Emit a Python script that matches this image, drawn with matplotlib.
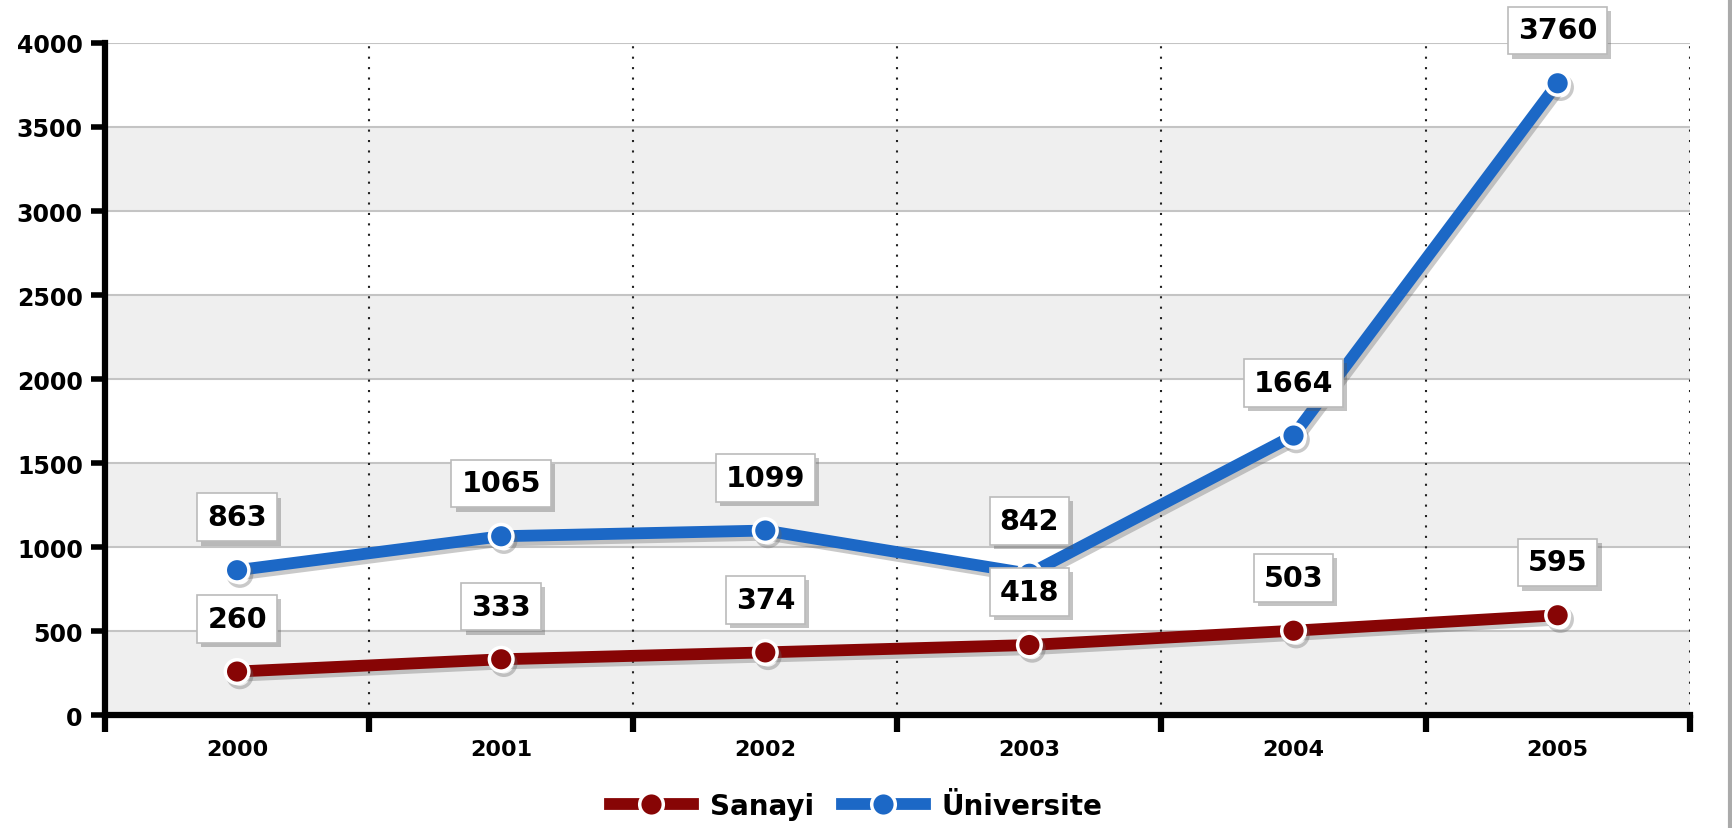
import numpy as np
import matplotlib as mpl
import matplotlib.pyplot as plt
import matplotlib.patheffects as pe
from matplotlib.lines import Line2D

mpl.use('Agg')

mpl.rcParams['font.family'] = ['DejaVu Sans']
mpl.rcParams['font.weight'] = 'bold'

years = ['2000', '2001', '2002', '2003', '2004', '2005']
sanayi = [260, 333, 374, 418, 503, 595]
universite = [863, 1065, 1099, 842, 1664, 3760]

RED = '#870505'
BLUE = '#1c68c6'


def add_series(ax, values, color, label):
    x = np.arange(len(values))
    ax.plot(x, values, color=color, lw=8.5, solid_capstyle='round', zorder=4,
            marker='o', ms=17, mfc=color, mec='white', mew=2.5, label=label,
            path_effects=[pe.SimpleLineShadow(offset=(2, -3), shadow_color='#666666', alpha=0.35),
                          pe.Normal()])
    for xi, v in zip(x, values):
        t = ax.annotate(str(v), xy=(xi, v), xytext=(0, 38), textcoords='offset points',
                        ha='center', va='center', fontsize=20.5, fontweight='bold', zorder=6,
                        bbox=dict(boxstyle='square,pad=0.35', fc='white', ec='#bbbbbb', lw=1.2))
        t.get_bbox_patch().set_path_effects(
            [pe.SimplePatchShadow(offset=(3, -3), shadow_rgbFace='#555555', alpha=0.35), pe.Normal()])


def main():
    fig = plt.figure(figsize=(17.33, 8.29), dpi=100)
    ax = fig.add_axes([0.0606, 0.136, 0.9144, 0.811])

    # alternating bands
    for i, lo in enumerate(range(0, 4000, 500)):
        if i % 2 == 0:
            ax.axhspan(lo, lo + 500, color='#efefef', zorder=0, lw=0)
    for yv in range(500, 4001, 500):
        ax.axhline(yv, color='#c4c4c4', lw=1.5, zorder=1)

    bounds = np.arange(-0.5, len(years), 1.0)
    for b in bounds[1:]:
        ax.axvline(b, color='#222222', lw=1.5, ls=(0, (1, 4)), zorder=1)

    add_series(ax, sanayi, RED, 'Sanayi')
    add_series(ax, universite, BLUE, 'Üniversite')

    ax.set_xlim(-0.5, len(years) - 0.5)
    ax.set_ylim(0, 4000)
    ax.set_yticks(range(0, 4001, 500))
    ax.set_xticks(bounds)
    ax.set_xticklabels([''] * len(bounds))
    ax.set_xticks(np.arange(len(years)), minor=True)
    ax.set_xticklabels(years, minor=True)
    ax.tick_params(axis='x', which='major', direction='out', length=12, width=4.5)
    ax.tick_params(axis='x', which='minor', length=0, pad=17, labelsize=16)
    ax.tick_params(axis='y', direction='out', length=10, width=4, pad=6, labelsize=17)
    for lab in ax.get_xticklabels(minor=True) + ax.get_yticklabels():
        lab.set_fontweight('bold')

    for s in ['top', 'right']:
        ax.spines[s].set_visible(False)
    for s in ['left', 'bottom']:
        ax.spines[s].set_linewidth(4.5)
        ax.spines[s].set_zorder(5)

    handles = [
        Line2D([], [], color=RED, lw=8.5, marker='o', ms=17, mfc=RED, mec='white', mew=2.5),
        Line2D([], [], color=BLUE, lw=8.5, marker='o', ms=17, mfc=BLUE, mec='white', mew=2.5),
    ]
    fig.legend(handles, ['Sanayi', 'Üniversite'], loc='center', bbox_to_anchor=(0.494, 0.027),
               ncol=2, frameon=False, handlelength=3.0, columnspacing=1.0, handletextpad=0.6,
               prop={'size': 20, 'weight': 'bold'})

    fig.add_artist(Line2D([0.9985, 0.9985], [0, 1], transform=fig.transFigure, color='#aaaaaa', lw=3))

    fig.savefig('out.png', dpi=100)
    plt.close(fig)


if __name__ == '__main__':
    main()
